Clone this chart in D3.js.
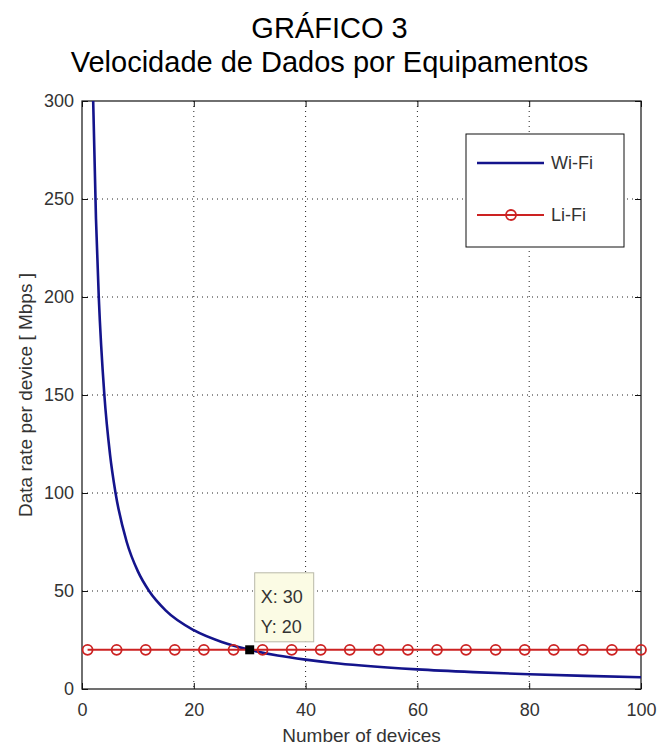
<!DOCTYPE html>
<html>
<head>
<meta charset="utf-8">
<script src="https://cdn.jsdelivr.net/npm/d3@7"></script>
<style>
  body { margin: 0; background: #fff; }
  text { font-family: "Liberation Sans", Arial, sans-serif; }
</style>
</head>
<body>
<div id="chart"></div>
<script>
// values
var titleLines = ["GRÁFICO 3", "Velocidade de Dados por Equipamentos"];
var xTicks = [0, 20, 40, 60, 80, 100];
var yTicks = [0, 50, 100, 150, 200, 250, 300];

var wifiX = [2, 2.5, 3, 4, 5, 6, 8, 10, 12, 15, 20, 25, 30, 35, 40, 45, 50, 60, 70, 80, 90, 100];
var wifiY = [300, 240, 200, 150, 120, 100, 75, 60, 50, 40, 30, 24, 20, 17.1, 15, 13.3, 12, 10, 8.6, 7.5, 6.7, 6];

// Li-Fi markers
var lifiX = [1, 6.2, 11.4, 16.6, 21.8, 27.1, 32.3, 37.5, 42.7, 47.9, 53.1, 58.3, 63.5, 68.7, 74, 79.2, 84.4, 89.6, 94.8, 100];
var lifiY = [20, 20, 20, 20, 20, 20, 20, 20, 20, 20, 20, 20, 20, 20, 20, 20, 20, 20, 20, 20];

var seriesNames = ["Wi-Fi", "Li-Fi"];
var tipPoint = {x: 30, y: 20};

var W = 659, H = 745;
var margin = {top: 101, right: 18, bottom: 56, left: 82};
var w = W - margin.left - margin.right,
    h = H - margin.top - margin.bottom;

var wifiColor = "#14148c", lifiColor = "#cc2222";

var svg = d3.select("#chart").append("svg")
    .attr("width", W)
    .attr("height", H);

// title
svg.selectAll(".title")
    .data(titleLines)
    .enter().append("text")
    .attr("class", "title")
    .attr("x", W / 2)
    .attr("y", function(d, i){ return 38 + i * 34; })
    .attr("text-anchor", "middle")
    .style("font-size", "29px")
    .style("fill", "#000")
    .text(function(d){ return d; });

var g = svg.append("g")
    .attr("transform", "translate(" + margin.left + "," + margin.top + ")");

var x = d3.scaleLinear().domain([0, 100]).range([0, w]);
var y = d3.scaleLinear().domain([0, 300]).range([h, 0]);

// grid (dotted)
g.selectAll(".gx")
    .data(xTicks.slice(1, -1))
    .enter().append("line")
    .attr("x1", function(d){ return x(d); })
    .attr("x2", function(d){ return x(d); })
    .attr("y1", 0).attr("y2", h)
    .style("stroke", "#222")
    .style("stroke-width", 1)
    .style("stroke-dasharray", "1,4");

g.selectAll(".gy")
    .data(yTicks.slice(1, -1))
    .enter().append("line")
    .attr("y1", function(d){ return y(d); })
    .attr("y2", function(d){ return y(d); })
    .attr("x1", 0).attr("x2", w)
    .style("stroke", "#222")
    .style("stroke-width", 1)
    .style("stroke-dasharray", "1,4");

// axes with inward ticks on all 4 sides
function styleAxis(sel) {
    sel.select(".domain").remove();
    sel.selectAll(".tick line").style("stroke", "#111");
    sel.selectAll(".tick text")
        .style("font-size", "18px")
        .style("fill", "#333")
        .style("font-family", "'Liberation Sans', Arial, sans-serif");
}

g.append("g")
    .attr("transform", "translate(0," + h + ")")
    .call(d3.axisBottom(x).tickValues(xTicks).tickSizeInner(-6).tickPadding(14))
    .call(styleAxis);

g.append("g")
    .call(d3.axisLeft(y).tickValues(yTicks).tickSizeInner(-6).tickPadding(8))
    .call(styleAxis);

g.append("g")
    .call(d3.axisTop(x).tickValues(xTicks).tickSizeInner(-6).tickFormat(""))
    .call(styleAxis);

g.append("g")
    .attr("transform", "translate(" + w + ",0)")
    .call(d3.axisRight(y).tickValues(yTicks).tickSizeInner(-6).tickFormat(""))
    .call(styleAxis);

// box
g.append("rect")
    .attr("width", w)
    .attr("height", h)
    .style("fill", "none")
    .style("stroke", "#111")
    .style("stroke-width", 1.2);

// clip
g.append("clipPath").attr("id", "clip")
  .append("rect").attr("width", w).attr("height", h);

var wifi = wifiX.map(function(d, i){ return {x: d, y: wifiY[i]}; });
var lifi = lifiX.map(function(d, i){ return {x: d, y: lifiY[i]}; });

var line = d3.line()
    .x(function(d){ return x(d.x); })
    .y(function(d){ return y(d.y); })
    .curve(d3.curveMonotoneX);

g.append("path")
    .datum(wifi)
    .attr("clip-path", "url(#clip)")
    .attr("d", line)
    .style("fill", "none")
    .style("stroke", wifiColor)
    .style("stroke-width", 2.6);

g.append("path")
    .datum(lifi)
    .attr("d", d3.line().x(function(d){ return x(d.x); }).y(function(d){ return y(d.y); }))
    .style("fill", "none")
    .style("stroke", lifiColor)
    .style("stroke-width", 2);

g.selectAll(".lifi")
    .data(lifi)
    .enter().append("circle")
    .attr("cx", function(d){ return x(d.x); })
    .attr("cy", function(d){ return y(d.y); })
    .attr("r", 5)
    .style("fill", "none")
    .style("stroke", lifiColor)
    .style("stroke-width", 1.8);

// data tip
g.append("rect")
    .attr("x", x(tipPoint.x) - 4.5)
    .attr("y", y(tipPoint.y) - 4.5)
    .attr("width", 9).attr("height", 9)
    .style("fill", "#000");

var tip = g.append("g")
    .attr("transform", "translate(" + (x(tipPoint.x) + 5) + "," + (y(tipPoint.y) - 77) + ")");

tip.append("rect")
    .attr("width", 59).attr("height", 69)
    .style("fill", "#fbfbe4")
    .style("stroke", "#b8b8a8")
    .style("stroke-width", 1);

tip.selectAll("text")
    .data(["X: " + tipPoint.x, "Y: " + tipPoint.y])
    .enter().append("text")
    .attr("x", 6)
    .attr("y", function(d, i){ return 30 + i * 30; })
    .style("font-size", "18px")
    .style("fill", "#333")
    .text(function(d){ return d; });

// legend
var legend = g.append("g")
    .attr("transform", "translate(" + (466 - margin.left) + "," + (134 - margin.top) + ")");

legend.append("rect")
    .attr("width", 158).attr("height", 113)
    .style("fill", "#fff")
    .style("stroke", "#111")
    .style("stroke-width", 1);

var items = legend.selectAll(".item")
    .data(seriesNames)
    .enter().append("g")
    .attr("transform", function(d, i){ return "translate(0," + (29 + i * 52) + ")"; });

items.append("line")
    .attr("x1", 11).attr("x2", 78)
    .style("stroke", function(d, i){ return i == 0 ? wifiColor : lifiColor; })
    .style("stroke-width", function(d, i){ return i == 0 ? 2.6 : 2; });

items.filter(function(d, i){ return i == 1; })
    .append("circle")
    .attr("cx", 45).attr("r", 5)
    .style("fill", "none")
    .style("stroke", lifiColor)
    .style("stroke-width", 1.8);

items.append("text")
    .attr("x", 85)
    .attr("dy", "0.35em")
    .style("font-size", "18px")
    .style("fill", "#333")
    .text(function(d){ return d; });

// axis titles
svg.append("text")
    .attr("x", margin.left + w / 2)
    .attr("y", 742)
    .attr("text-anchor", "middle")
    .style("font-size", "19px")
    .style("fill", "#333")
    .text("Number of devices");

svg.append("text")
    .attr("transform", "translate(25," + (margin.top + h / 2) + ") rotate(-90)")
    .attr("text-anchor", "middle")
    .attr("dy", "0.35em")
    .style("font-size", "19px")
    .style("fill", "#333")
    .text("Data rate per device [ Mbps ]");
</script>
</body>
</html>
